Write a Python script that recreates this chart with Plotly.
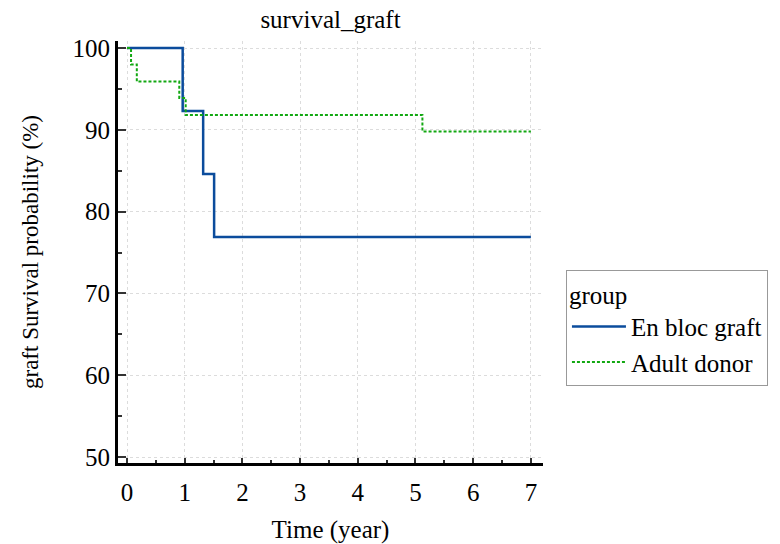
import plotly.graph_objects as go

# Data (Kaplan-Meier step curves)
enbloc_time = [0, 0.965, 1.32, 1.51, 7.0]
enbloc_surv = [100, 92.3, 84.6, 76.9, 76.9]
adult_time = [0, 0.07, 0.17, 0.906, 1.017, 5.12, 7.0]
adult_surv = [100, 98.0, 95.9, 93.9, 91.8, 89.8, 89.8]

x_ticks = [0, 1, 2, 3, 4, 5, 6, 7]
y_ticks = [50, 60, 70, 80, 90, 100]

FONT = "Liberation Serif, Times New Roman, serif"

fig = go.Figure()
fig.add_trace(go.Scatter(
    x=enbloc_time, y=enbloc_surv, mode="lines", line_shape="hv",
    name="En bloc graft", line=dict(color="#0B4C9C", width=2.5)))
fig.add_trace(go.Scatter(
    x=adult_time, y=adult_surv, mode="lines", line_shape="hv",
    name="Adult donor", line=dict(color="#12A812", width=2, dash="3px,2px")))

fig.update_layout(
    width=780, height=544,
    margin=dict(l=118, r=237, t=41, b=81, autoexpand=False),
    paper_bgcolor="white", plot_bgcolor="white",
    font=dict(family=FONT, size=25, color="black"),
    title=dict(text="survival_graft", x=(118 + 543) / 2 / 780, xanchor="center",
               y=1 - 19 / 544, yanchor="middle", font=dict(size=25)),
    legend=dict(
        title=dict(text="group", font=dict(size=25)),
        x=1.054, xanchor="left", y=0.457, yanchor="top",
        bordercolor="#999999", borderwidth=1, bgcolor="white",
        font=dict(size=25), tracegroupgap=0, itemwidth=54),
    showlegend=True,
)

fig.update_xaxes(
    range=[-0.156, 7.21], tickvals=x_ticks,
    ticks="inside", ticklen=5, tickwidth=2, tickcolor="#333333",
    minor=dict(dtick=0.5, ticks="inside", ticklen=3, tickwidth=2, tickcolor="#333333", showgrid=False),
    showline=True, linewidth=3, linecolor="black",
    showgrid=True, gridcolor="#dcdcdc", gridwidth=1, griddash="dot",
    zeroline=False, ticklabelstandoff=5, automargin=False,
    title=dict(text="Time (year)", font=dict(size=25), standoff=18),
    tickfont=dict(size=25),
)
fig.update_yaxes(
    range=[49.27, 100.86], tickvals=y_ticks,
    ticks="inside", ticklen=8, tickwidth=2, tickcolor="#333333",
    minor=dict(dtick=5, ticks="inside", ticklen=4, tickwidth=2, tickcolor="#333333", showgrid=False),
    showline=True, linewidth=3, linecolor="black",
    showgrid=True, gridcolor="#dcdcdc", gridwidth=1, griddash="dot",
    zeroline=False, automargin=False,
    title=dict(text="graft Survival probability (%)", font=dict(size=23), standoff=28),
    tickfont=dict(size=25),
)

fig.write_html("out.html")
